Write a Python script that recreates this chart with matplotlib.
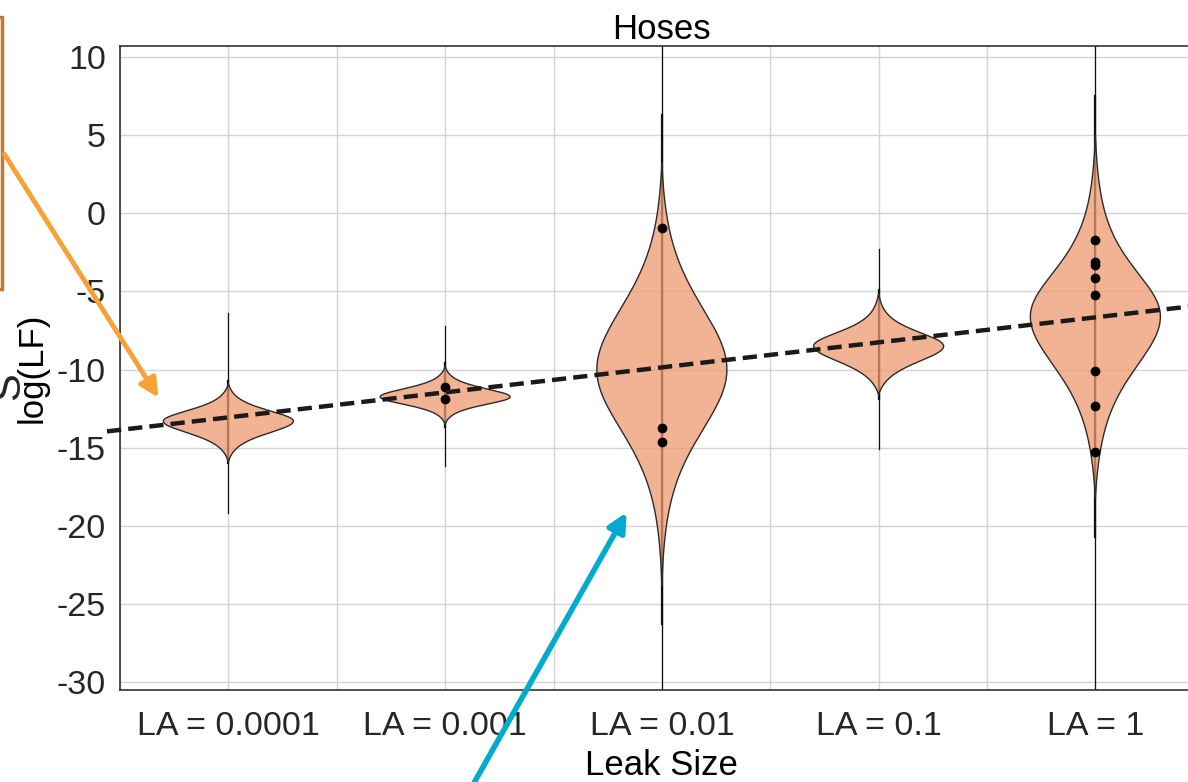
import matplotlib
matplotlib.use("Agg")
import matplotlib.pyplot as plt
import numpy as np
from matplotlib.patches import Rectangle, FancyArrowPatch

plt.rcParams['font.family'] = ['Liberation Sans', 'DejaVu Sans']
plt.rcParams['axes.unicode_minus'] = False

# data
categories = ['LA = 0.0001', 'LA = 0.001', 'LA = 0.01', 'LA = 0.1', 'LA = 1']
modes = [-13.3, -11.75, -10.0, -8.5, -6.6]
spread_up = [0.77, 0.6, 4.3, 1.0, 3.3]
spread_down = [0.86, 0.55, 4.2, 1.13, 3.7]
tail_df = [4, 4, 8, 4, 4]
violin_top = [-10.9, -9.8, 3.2, -5.1, 5.0]
violin_bottom = [-15.9, -13.5, -23.8, -11.6, -18.2]
inner_top = [-10.7, -9.6, 6.3, -4.9, 7.5]
inner_bottom = [-16.0, -13.7, -26.3, -11.9, -20.7]
whisker_top = [-6.4, -7.2, 11.5, -2.3, 11.5]
whisker_bottom = [-19.2, -16.2, -31.0, -15.1, -31.0]
points = [
    [],
    [-11.1, -11.9],
    [-0.95, -13.75, -14.65],
    [],
    [-1.7, -3.15, -3.3, -4.13, -5.26, -10.06, -12.35, -15.3],
]
trend_slope = 1.6
trend_intercept = -14.66

W, H = 1188, 782
fig = plt.figure(figsize=(W / 100, H / 100), dpi=100)
ax = fig.add_axes([120 / W, 92 / H, 1083.75 / W, 644 / H])


def profile(z, nu):
    return (1 + z ** 2 / nu) ** (-(nu + 1) / 2)


half_width = 0.3
for i, cat in enumerate(categories):
    x = i + 1
    nu = tail_df[i]
    # whiskers
    ax.plot([x, x], [whisker_bottom[i], whisker_top[i]], color='#111111', lw=0.9, zorder=2)
    ax.plot([x, x], [inner_bottom[i], inner_top[i]], color='#111111', lw=1.6, zorder=2)
    # violin outline, tapered to zero at both tips
    yy = np.linspace(violin_bottom[i], violin_top[i], 500)
    up = yy > modes[i]
    s = np.where(up, spread_up[i], spread_down[i])
    f = profile((yy - modes[i]) / s, nu)
    f_top = profile((violin_top[i] - modes[i]) / spread_up[i], nu)
    f_bot = profile((violin_bottom[i] - modes[i]) / spread_down[i], nu)
    f_end = np.where(up, f_top, f_bot)
    w = half_width * np.clip(f - f_end, 0, None) / (1 - f_end)
    ax.fill_betweenx(yy, x - w, x + w, facecolor='#EE9A70', alpha=0.75,
                     edgecolor='none', zorder=3)
    ax.plot(np.r_[x - w, (x + w)[::-1]], np.r_[yy, yy[::-1]],
            color='#2b2b2b', lw=1.0, zorder=4)
    if points[i]:
        ax.plot([x] * len(points[i]), points[i], 'o', color='black',
                markersize=6, zorder=5)

xs = np.array([0.44, 5.6])
ax.plot(xs, trend_intercept + trend_slope * xs, '--', color='#1a1a1a', lw=3.2,
        dashes=(3.2, 1.6), zorder=6, clip_on=False)

ax.set_xlim(0.5, 5.5)
ax.set_ylim(-30.5, 10.7)
ax.set_xticks(range(1, 6))
ax.set_xticklabels(categories)
ax.set_xticks(np.arange(0.5, 5.6, 0.5), minor=True)
ax.set_yticks(range(-30, 11, 5))
ax.tick_params(axis='both', which='both', length=0, labelsize=24.5, colors='#262626', pad=10)
ax.tick_params(axis='x', pad=15)
ax.grid(True, which='both', color='#d4d4d4', lw=1.0)
ax.set_axisbelow(True)
for side in ['left', 'bottom', 'top', 'right']:
    ax.spines[side].set_color('#333333')
    ax.spines[side].set_linewidth(1.2)

ax.set_title('Hoses', fontsize=25, pad=4)
ax.set_xlabel('Leak Size', fontsize=25, labelpad=5)
ax.set_ylabel('log(LF)', fontsize=25, labelpad=6)

# annotation pieces cut off at the picture's edge
fig.add_artist(Rectangle((-200 / W, 1 - 289 / H), 202 / W, 272 / H,
                         transform=fig.transFigure, facecolor='none',
                         edgecolor='#C8782A', lw=2.5))
fig.text(-12 / W, 1 - 386 / H, 'S', rotation=90, fontsize=30, va='center',
         ha='left', color='#262626')
fig.add_artist(FancyArrowPatch((3 / W, 1 - 152 / H), (160 / W, 1 - 400 / H),
                               transform=fig.transFigure, arrowstyle='-|>',
                               mutation_scale=28, color='#F7A136', lw=3.5))
fig.add_artist(FancyArrowPatch((470 / W, 1 - 790 / H), (628 / W, 1 - 510 / H),
                               transform=fig.transFigure, arrowstyle='-|>',
                               mutation_scale=28, color='#02AACD', lw=4))

fig.savefig('out.png', dpi=100)
